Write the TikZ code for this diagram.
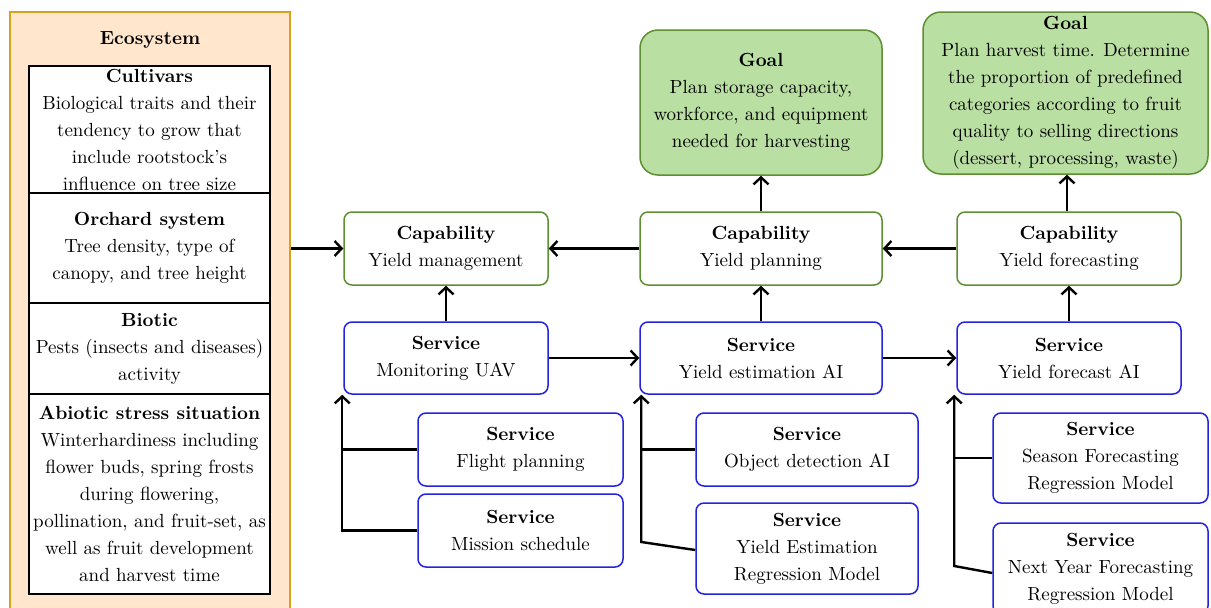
\documentclass[tikz,border=0pt]{standalone}
\usepackage{fontspec}
\setmainfont{lmroman10-regular.otf}[BoldFont=lmroman10-bold.otf]
\usetikzlibrary{arrows.meta}
\definecolor{capgreen}{HTML}{5E8F32}
\definecolor{goalfill}{HTML}{B9DFA3}
\definecolor{svcblue}{HTML}{2323E0}
\definecolor{ecofill}{HTML}{FFE6CC}
\definecolor{ecoline}{HTML}{D6A21E}
\newcommand{\hd}[1]{{\bfseries #1}}
\begin{document}
\begin{tikzpicture}[x=1pt,y=-1pt,
 txt/.style={font=\fontsize{19}{27}\selectfont, align=center, text=black, inner sep=0pt},
 capbox/.style={txt, draw=capgreen, line width=1.5pt, rounded corners=8pt, fill=white},
 svcbox/.style={txt, draw=svcblue, line width=1.5pt, rounded corners=8pt, fill=white},
 goalbox/.style={txt, draw=capgreen, fill=goalfill, line width=1.5pt, rounded corners=18pt},
 ecoitem/.style={txt, draw=black, fill=white, line width=1.2pt, minimum width=241pt},
 arr/.style={draw=black, line width=2.4pt, -{Straight Barb[length=7pt,width=15pt]}},
 conn/.style={draw=black, line width=2.4pt}]
\useasboundingbox (0,0) rectangle (1211,608);
\clip (0,0) rectangle (1211,608);
\fill[white] (0,0) rectangle (1211,608);

% Ecosystem
\node[draw=ecoline, fill=ecofill, line width=2.5pt, minimum width=280pt, minimum height=608pt, inner sep=0pt] (eco) at (150,316) {};
\node[txt] (ecot) at (150,40) {\hd{Ecosystem}};
\node[ecoitem, minimum height=127pt] (cult) at (149.5,129.5) {\hd{Cultivars}\\Biological traits and their\\tendency to grow that\\include rootstock's\\influence on tree size};
\node[ecoitem, minimum height=110pt] (orch) at (149.5,248) {\hd{Orchard system}\\Tree density, type of\\canopy, and tree height};
\node[ecoitem, minimum height=91pt] (biot) at (149.5,348.5) {\hd{Biotic}\\Pests (insects and diseases)\\activity};
\node[ecoitem, minimum height=200pt] (abio) at (149.5,494) {\hd{Abiotic stress situation}\\Winterhardiness including\\flower buds, spring frosts\\during flowering,\\pollination, and fruit-set, as\\well as fruit development\\and harvest time};

% Goals
\node[goalbox, minimum width=242pt, minimum height=145pt] (goal1) at (761,102.5) {\hd{Goal}\\Plan storage capacity,\\workforce, and equipment\\needed for harvesting};
\node[goalbox, minimum width=285pt, minimum height=162pt] (goal2) at (1065.5,93) {\hd{Goal}\\Plan harvest time. Determine\\the proportion of predefined\\categories according to fruit\\quality to selling directions\\(dessert, processing, waste)};

% Capabilities
\node[capbox, minimum width=204pt, minimum height=73pt] (cap1) at (446,248.5) {\hd{Capability}\\Yield management};
\node[capbox, minimum width=242pt, minimum height=73pt] (cap2) at (761,248.5) {\hd{Capability}\\Yield planning};
\node[capbox, minimum width=224pt, minimum height=73pt] (cap3) at (1069,248.5) {\hd{Capability}\\Yield forecasting};

% Main services
\node[svcbox, minimum width=204pt, minimum height=72pt] (svc1) at (446,358) {\hd{Service}\\Monitoring UAV};
\node[svcbox, minimum width=242pt, minimum height=72pt] (svc2) at (761,358) {\hd{Service}\\Yield estimation AI};
\node[svcbox, minimum width=224pt, minimum height=72pt] (svc3) at (1069,358) {\hd{Service}\\Yield forecast AI};

% Sub services
\node[svcbox, minimum width=205pt, minimum height=73pt] (fp) at (520.5,449.5) {\hd{Service}\\Flight planning};
\node[svcbox, minimum width=205pt, minimum height=73pt] (ms) at (520.5,530.5) {\hd{Service}\\Mission schedule};
\node[svcbox, minimum width=222pt, minimum height=73pt] (od) at (807,449.5) {\hd{Service}\\Object detection AI};
\node[svcbox, minimum width=222pt, minimum height=91pt] (yer) at (807,548.5) {\hd{Service}\\Yield Estimation\\Regression Model};
\node[svcbox, minimum width=215pt, minimum height=90pt] (sf) at (1100.5,458) {\hd{Service}\\Season Forecasting\\Regression Model};
\node[svcbox, minimum width=215pt, minimum height=91pt] (ny) at (1100.5,568.5) {\hd{Service}\\Next Year Forecasting\\Regression Model};

% Connectors
\draw[arr] (eco.east |- cap1.west) -- (cap1.west);
\draw[arr] (cap2.west) -- (cap1.east);
\draw[arr] (cap3.west) -- (cap2.east);
\draw[arr] (svc1.north) -- (cap1.south);
\draw[arr] (svc2.north) -- (cap2.south);
\draw[arr] (svc3.north) -- (cap3.south);
\draw[arr] (cap2.north) -- (cap2.north |- goal1.south);
\draw[arr] ([xshift=-2pt]cap3.north) -- ([xshift=-2pt]cap3.north |- goal2.south);
\draw[arr] (svc1.east) -- (svc2.west);
\draw[arr] (svc2.east) -- (svc3.west);

\coordinate (j1) at ([xshift=-1pt]svc1.south west);
\coordinate (j2) at ([xshift=2pt]svc2.south west);
\coordinate (j3) at ([xshift=-2pt]svc3.south west);

\draw[arr] (ms.west) -| (j1);
\draw[conn] (fp.west) -- (fp.west -| j1);
\draw[arr] ([yshift=-1.5pt]yer.west) -- ([yshift=6.5pt]yer.west -| j2) -- (j2);
\draw[conn] (od.west) -- (od.west -| j2);
\draw[arr] ([yshift=-4.5pt]ny.west) -- ([yshift=2.5pt]ny.west -| j3) -- (j3);
\draw[conn] (sf.west) -- (sf.west -| j3);
\end{tikzpicture}
\end{document}
